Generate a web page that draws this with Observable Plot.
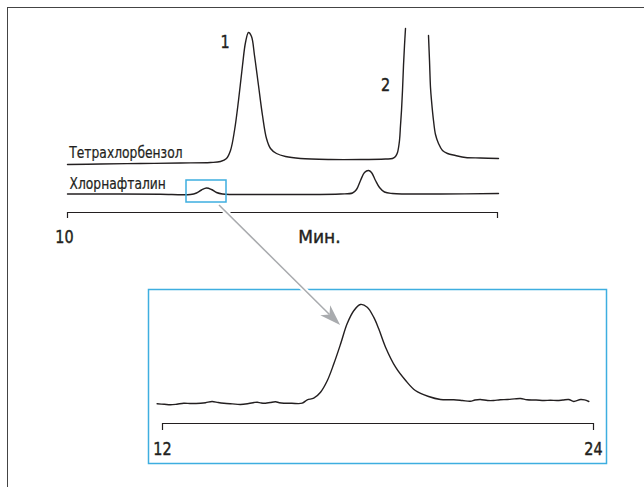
<!DOCTYPE html>
<html>
<head>
<meta charset="utf-8">
<script src="https://cdn.jsdelivr.net/npm/d3@7"></script>
<script src="https://cdn.jsdelivr.net/npm/@observablehq/plot@0.6"></script>
<style>
  body { margin: 0; background: #fff; }
  #chart { position: relative; width: 644px; height: 487px; overflow: hidden; background: #fff; }
  #chart svg { position: absolute; }
  .frame { position: absolute; left: 7px; top: 7px; width: 700px; height: 600px;
           border-left: 1.6px solid #444; border-top: 1.6px solid #444; pointer-events: none; }
</style>
</head>
<body>
<div id="chart"></div>
<script>
// ---------------- DATA ----------------
const mainTimeDomain = [10, 53];
const mainTicks = [10, 53];
const mainTickLabels = ["10", ""];
const axisTitle = "Мин.";
const traceLabels = ["Тетрахлорбензол", "Хлорнафталин"];
const peakLabels = ["1", "2"];

// Tetrachlorobenzene trace (time, signal); null = off-scale gap at peak 2
const tetraTime = [10.0, 13.3, 17.3, 21.3, 24.3, 25.3, 25.9, 26.3, 26.7, 27.1, 27.5, 27.8, 28.1, 28.4, 28.7, 29.1, 29.5, 29.9, 30.3, 30.9, 31.8, 33.3, 36.3, 39.3, 41.8, 42.5, 42.8, 43.0, 43.2, 43.3, 43.4, 43.5, 43.6, 43.7, 43.8, 45.0, 46.1, 46.2, 46.3, 46.4, 46.6, 46.8, 47.1, 47.5, 48.0, 48.8, 49.8, 51.3, 53.1];
const tetraSignal = [48, 48.5, 49, 49.5, 50, 51, 54, 62, 82, 112, 147, 170, 180, 176, 157, 127, 97, 74, 64, 59, 56, 54, 53, 53, 53.5, 54, 56, 60, 72, 87, 102, 122, 147, 167, 184, null, 177, 152, 125, 112, 92, 78, 69, 62, 59, 57, 55, 54.5, 54];

// Chloronaphthalene trace
const chloroTime = [10.0, 15.3, 19.3, 22.3, 22.9, 23.4, 23.9, 24.4, 24.9, 25.5, 29.3, 33.3, 37.3, 38.5, 38.9, 39.3, 39.7, 40.1, 40.4, 40.8, 41.2, 41.7, 42.5, 47.3, 53.1];
const chloroSignal = [18.5, 18.5, 18.2, 18, 19.5, 22.5, 24.5, 23, 20, 18.5, 18, 18, 18.5, 19.5, 23, 32, 40, 42, 40, 32, 25, 20.5, 19, 18.5, 19];

// Zoomed window (blue box) on the main trace
const zoomWindow = { t1: 21.9, t2: 25.9, s1: 10, s2: 32 };

// Inset: enlarged chloronaphthalene bump
const insetTimeDomain = [12, 24];
const insetTicks = [12, 24];
const insetTime = [11.85, 12.05, 12.22, 12.40, 12.59, 12.80, 13.06, 13.20, 13.38, 13.55, 13.71, 13.95, 14.17, 14.40, 14.55, 14.64, 14.75, 14.87, 15.00, 15.15, 15.25, 15.38, 15.60, 15.89, 16.03, 16.21, 16.40, 16.59, 16.77, 16.96, 17.14, 17.33, 17.51, 17.70, 17.88, 18.02, 18.21, 18.49, 18.77, 19.04, 19.41, 19.74, 20.11, 20.35, 20.57, 20.70, 20.85, 21.05, 21.22, 21.40, 21.60, 21.80, 21.97, 22.15, 22.40, 22.62, 22.80, 22.99, 23.15, 23.31, 23.45, 23.64, 23.75, 23.87];
const insetSignal = [19.7, 19.2, 18.7, 19.3, 20.3, 20.0, 20.3, 20.8, 22.0, 21.0, 20.3, 19.6, 19.0, 20.0, 21.0, 21.3, 20.5, 20.3, 21.0, 21.7, 20.8, 20.3, 20.2, 20.3, 23.7, 25.3, 31.3, 43, 59.7, 79.7, 99.7, 113, 119, 116.3, 106.3, 94.7, 76.3, 56.3, 43, 33, 27, 24, 23.7, 23.0, 22.3, 23.5, 24, 23.0, 23, 23.8, 24, 24.6, 25, 23.7, 23.5, 23, 23.3, 23, 23.5, 24, 22, 24, 23.6, 22];

// Arrow from the zoom box to the inset peak
const arrowFrom = { t: 25.2, s: 7 };     // main chart units
const arrowTo = { t: 16.96, s: 98 };     // inset units

// ---------------- BUILD ----------------
const FONT = '"DejaVu Sans",sans-serif';
const INK = "#231f20";
const BLUE = "#3eaee0";
const GRAY = "#a9abae";

const tetra = tetraTime.map((t, i) => ({ t, s: tetraSignal[i] }));
const chloro = chloroTime.map((t, i) => ({ t, s: chloroSignal[i] }));
const insetData = insetTime.map((t, i) => ({ t, s: insetSignal[i] }));

const traceLabelTable = traceLabels.map((text, i) => ({ text, t: 10.2, s: [60, 29][i] }));
const peakLabelTable = peakLabels.map((text, i) => ({ text, t: [25.75, 41.8][i], s: [170, 127][i] }));

const chart = document.getElementById("chart");
const BOLDISH = { stroke: INK, strokeWidth: 0.45 };

const main = Plot.plot({
  width: 644, height: 260, margin: 0,
  x: { domain: mainTimeDomain, range: [67, 497], axis: null },
  y: { domain: [0, 180], range: [212, 32], axis: null },
  style: { background: "transparent", fontFamily: FONT, overflow: "visible" },
  marks: [
    Plot.line(tetra, { x: "t", y: "s", stroke: INK, strokeWidth: 1.4, curve: "catmull-rom" }),
    Plot.line(chloro, { x: "t", y: "s", stroke: INK, strokeWidth: 1.4, curve: "catmull-rom" }),
    Plot.rect([zoomWindow], { x1: "t1", x2: "t2", y1: "s1", y2: "s2", fill: "none", stroke: BLUE, strokeWidth: 1.5 }),
    Plot.ruleY([0], { x1: mainTimeDomain[0], x2: mainTimeDomain[1], stroke: INK, strokeWidth: 1.2 }),
    Plot.ruleX(mainTicks, { y1: 0, y2: -6, stroke: INK, strokeWidth: 1.2 }),
    Plot.text(mainTicks, { x: d => d, y: -25, text: (d, i) => mainTickLabels[i], fontSize: 18, fill: INK, dx: -3, ...BOLDISH }),
    Plot.text([axisTitle], { x: 35.2, y: -25, text: d => d, fontSize: 18, fill: INK, ...BOLDISH }),
    Plot.text(traceLabelTable, { x: "t", y: "s", text: "text", textAnchor: "start", fontSize: 16, fill: INK, stroke: INK, strokeWidth: 0.25 }),
    Plot.text(peakLabelTable, { x: "t", y: "s", text: "text", fontSize: 18, fill: INK, ...BOLDISH })
  ]
});
main.style.left = "0px"; main.style.top = "0px";
chart.appendChild(main);

const INSET_LEFT = 146, INSET_TOP = 287;
const inset = Plot.plot({
  width: 462, height: 178,
  marginTop: 2, marginRight: 2, marginBottom: 2, marginLeft: 2,
  x: { domain: insetTimeDomain, range: [16, 447], axis: null },
  y: { domain: [0, 120], range: [136, 16], axis: null },
  style: { background: "transparent", fontFamily: FONT, overflow: "visible" },
  marks: [
    Plot.frame({ stroke: BLUE, strokeWidth: 1.5 }),
    Plot.line(insetData, { x: "t", y: "s", stroke: INK, strokeWidth: 1.4, curve: "catmull-rom" }),
    Plot.ruleY([0], { x1: insetTimeDomain[0], x2: insetTimeDomain[1], stroke: INK, strokeWidth: 1.2 }),
    Plot.ruleX(insetTicks, { y1: 0, y2: -7, stroke: INK, strokeWidth: 1.2 }),
    Plot.text(insetTicks, { x: d => d, y: -26, text: d => String(d), fontSize: 18, fill: INK, ...BOLDISH })
  ]
});
inset.style.left = INSET_LEFT + "px"; inset.style.top = INSET_TOP + "px";
chart.appendChild(inset);

// condensed look: compress each text horizontally about its anchor point
function condense(svg) {
  const NS = "http://www.w3.org/2000/svg";
  Array.from(svg.querySelectorAll("text")).forEach(el => {
    const s = el.textContent.trim();
    if (!s) return;
    const k = /^\d+$/.test(s) ? 0.8 : traceLabels.includes(s) ? 0.77 : 0.95;
    const g = document.createElementNS(NS, "g");
    el.parentNode.insertBefore(g, el);
    g.appendChild(el);
    const b = g.getBBox();
    const anchor = getComputedStyle(el).textAnchor;
    const ax = anchor === "start" ? b.x : anchor === "end" ? b.x + b.width : b.x + b.width / 2;
    g.setAttribute("transform", `translate(${ax},0) scale(${k},1) translate(${-ax},0)`);
  });
}
condense(main); condense(inset);

// overlay arrow (positions via the two plots' scales)
const fn = s => (typeof s.apply === "function" ? s.apply : d3.scaleLinear(s.domain, s.range));
const mx = fn(main.scale("x")), my = fn(main.scale("y"));
const ix = fn(inset.scale("x")), iy = fn(inset.scale("y"));
const p0 = [mx(arrowFrom.t), my(arrowFrom.s)];
const p1 = [ix(arrowTo.t) + INSET_LEFT, iy(arrowTo.s) + INSET_TOP];
const dx = p1[0] - p0[0], dy = p1[1] - p0[1], len = Math.hypot(dx, dy);
const u = [dx / len, dy / len], n = [-u[1], u[0]];
const L = 21, W = 7, N = 6;
const back = [p1[0] - L * u[0], p1[1] - L * u[1]];
const notch = [p1[0] - (L - N) * u[0], p1[1] - (L - N) * u[1]];
const head = [p1, [back[0] + W * n[0], back[1] + W * n[1]], notch, [back[0] - W * n[0], back[1] - W * n[1]]];

const ov = d3.create("svg").attr("width", 644).attr("height", 487)
  .style("left", "0px").style("top", "0px").style("pointer-events", "none");
ov.append("line").attr("x1", p0[0]).attr("y1", p0[1]).attr("x2", notch[0]).attr("y2", notch[1])
  .attr("stroke", "#fff").attr("stroke-width", 5.5);
ov.append("line").attr("x1", p0[0]).attr("y1", p0[1]).attr("x2", notch[0]).attr("y2", notch[1])
  .attr("stroke", GRAY).attr("stroke-width", 1.5);
ov.append("path").attr("d", "M" + head.map(p => p.join(",")).join("L") + "Z").attr("fill", GRAY);
chart.appendChild(ov.node());

const frame = document.createElement("div");
frame.className = "frame";
chart.appendChild(frame);
</script>
</body>
</html>
